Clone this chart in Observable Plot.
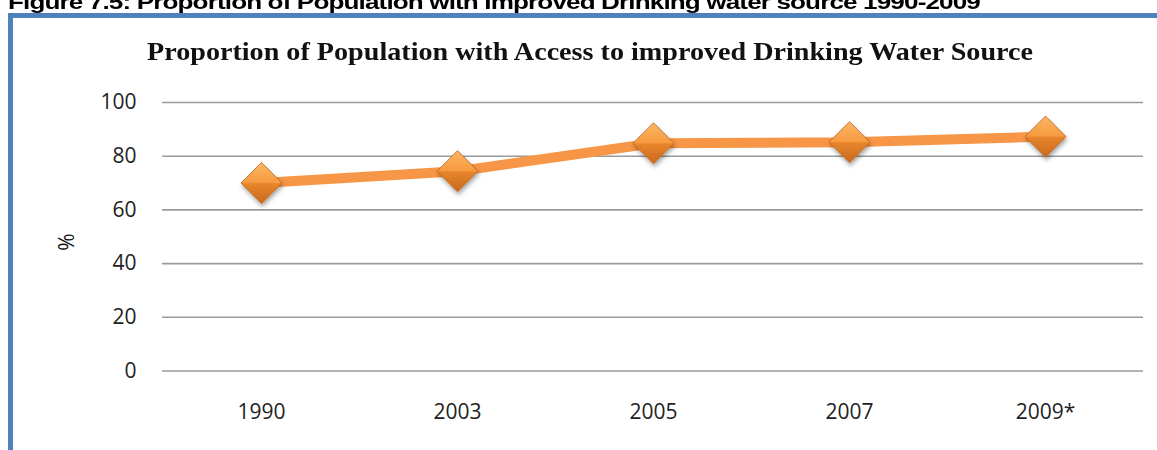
<!DOCTYPE html>
<html>
<head>
<meta charset="utf-8">
<script src="https://cdn.jsdelivr.net/npm/d3@7"></script>
<script src="https://cdn.jsdelivr.net/npm/@observablehq/plot@0.6"></script>
<style>
  html, body { margin: 0; padding: 0; background: #fff; }
  #wrap { position: relative; width: 1157px; height: 450px; overflow: hidden; background: #fff; }
  #caption { position: absolute; left: 8px; top: -9px; white-space: nowrap;
    font-family: "Liberation Sans", Arial, sans-serif; font-weight: bold; font-size: 21px;
    line-height: 21px; letter-spacing: -0.7px; color: #000; transform-origin: 0 0; }
  #frame { position: absolute; left: 8px; top: 13px; width: 1200px; height: 500px;
    border-left: 5px solid #4F81BD; border-top: 5px solid #4F81BD; box-sizing: border-box; }
  #title { position: absolute; left: 147px; top: 37px; white-space: nowrap;
    font-family: "Liberation Serif", "Times New Roman", serif; font-weight: bold; font-size: 25px;
    line-height: 30px; color: #111; transform-origin: 0 0; }
  #chart { position: absolute; left: 0; top: 0; }
</style>
</head>
<body>
<div id="wrap">
  <div id="caption">Figure 7.5: Proportion of Population with Improved Drinking water source 1990-2009</div>
  <div id="frame"></div>
  <div id="title">Proportion of Population with Access to improved Drinking Water Source</div>
  <div id="chart"></div>
</div>
<script>
const years = ["1990", "2003", "2005", "2007", "2009*"];
const values = [70, 74.4, 84.8, 85.2, 87.3];
const yTicks = [0, 20, 40, 60, 80, 100];
const yLabel = "%";

const data = years.map((year, i) => ({year, value: values[i]}));

const chart = Plot.plot({
  width: 1157,
  height: 450,
  marginLeft: 162,
  marginRight: 14,
  marginTop: 102,
  marginBottom: 79.5,
  style: {fontFamily: "'Open Sans', sans-serif", fontSize: "21px", color: "#222", background: "transparent", overflow: "visible"},
  x: {type: "point", domain: years, padding: 0.5, label: null},
  y: {domain: [0, 100], label: null},
  marks: [
    Plot.ruleY(yTicks, {stroke: "#9a9a9a", strokeWidth: 1.6}),
    Plot.ruleX([0], {frameAnchor: "left", y1: 0, y2: 100, stroke: "#9a9a9a", strokeWidth: 1.6}),
    Plot.axisY({ticks: yTicks, tickSize: 0, tickPadding: 26, label: null, fontSize: 21, fill: "#222"}),
    Plot.axisX({tickSize: 0, tickPadding: 33, label: null, fontSize: 21, fill: "#222"}),
    Plot.text([yLabel], {frameAnchor: "left", dx: -95, dy: 14, rotate: -90, fontSize: 21, fill: "#111"}),
    Plot.line(data, {x: "year", y: "value", stroke: "#F79646", strokeWidth: 10, strokeLinejoin: "round"}),
    Plot.dot(data, {x: "year", y: "value", symbol: "diamond2", r: 18.5, fill: "#E8862E", stroke: "#B9651F", strokeWidth: 0.8, className: "gem"})
  ]
});

document.getElementById("chart").appendChild(chart);

// 3D-looking diamond: gradient facets and soft shadow
const svg = d3.select(chart);
const defs = svg.insert("defs", ":first-child");
const g = defs.append("linearGradient").attr("id", "gemGrad").attr("x1", 0).attr("y1", 0).attr("x2", 0).attr("y2", 1);
[["0%", "#FDB664"], ["48%", "#F79B40"], ["52%", "#E7852C"], ["100%", "#C9691B"]].forEach(([o, c]) =>
  g.append("stop").attr("offset", o).attr("stop-color", c));
const f = defs.append("filter").attr("id", "gemShadow").attr("x", "-50%").attr("y", "-50%").attr("width", "200%").attr("height", "200%");
f.append("feDropShadow").attr("dx", 1).attr("dy", 3).attr("stdDeviation", 2.2).attr("flood-color", "#000").attr("flood-opacity", 0.35);
svg.selectAll(".gem path").attr("fill", "url(#gemGrad)").attr("filter", "url(#gemShadow)");

// stretch the texts horizontally to the widths they take in the reference
function fitWidth(id, target) {
  const el = document.getElementById(id);
  const w = el.getBoundingClientRect().width;
  el.style.transform = `scaleX(${target / w})`;
}
fitWidth("caption", 972);
fitWidth("title", 886);
</script>
</body>
</html>
